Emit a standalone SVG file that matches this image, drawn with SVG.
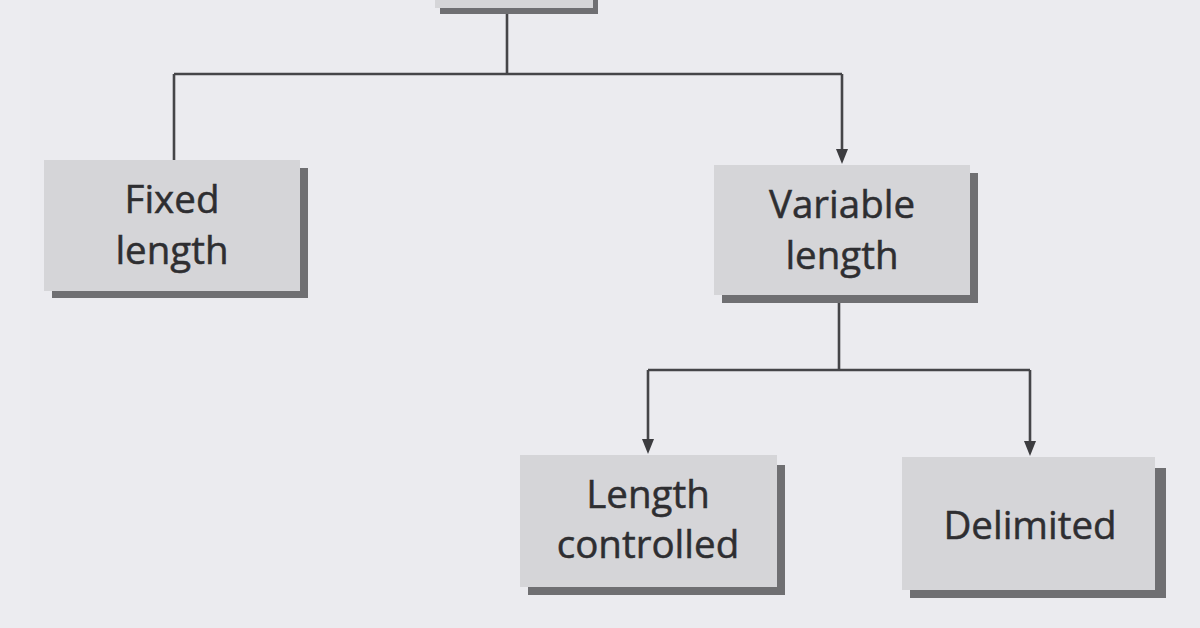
<svg xmlns="http://www.w3.org/2000/svg" width="1200" height="628" viewBox="0 0 1200 628">
<defs>
<style>
.bg{fill:#ebebef}
.box{fill:#d5d5d8}
.sh{fill:#6f6f72}
.lbl{font-family:"Open Sans","Noto Sans","Liberation Sans",sans-serif;font-size:38.5px;fill:#2e2e31;stroke:#2e2e31;stroke-width:0.5;text-anchor:middle}
.ln{fill:none;stroke:#454548;stroke-width:2.6}
.ah{fill:#3c3c3f}
</style>
</defs>
<rect class="bg" x="0" y="0" width="1200" height="628"/>
<rect x="0" y="0" width="30" height="628" fill="#ececf0"/>

<g id="connectors">
<path class="ln" d="M507,14 V74"/>
<path class="ln" d="M174,74 H842"/>
<path class="ln" d="M174,74 V160"/>
<path class="ln" d="M842,74 V150"/>
<path class="ah" d="M836,149 L848,149 L842,164 Z"/>
<path class="ln" d="M839,303 V370"/>
<path class="ln" d="M648,370 H1030"/>
<path class="ln" d="M648,370 V440"/>
<path class="ah" d="M642,439 L654,439 L648,454 Z"/>
<path class="ln" d="M1030,370 V442"/>
<path class="ah" d="M1024,441 L1036,441 L1030,456 Z"/>
</g>

<g id="node-top">
<rect class="sh" x="440" y="0" width="158" height="14"/>
<rect class="box" x="435" y="-60" width="158" height="68"/>
</g>

<g id="node-fixed">
<rect class="sh" x="52" y="168" width="256" height="130"/>
<rect class="box" x="44" y="160" width="256" height="131"/>
<text class="lbl" x="172" y="213">Fixed</text>
<text class="lbl" x="172" y="264">length</text>
</g>

<g id="node-variable">
<rect class="sh" x="722" y="173" width="256" height="130"/>
<rect class="box" x="714" y="165" width="256" height="130"/>
<text class="lbl" x="842" y="218">Variable</text>
<text class="lbl" x="842" y="269">length</text>
</g>

<g id="node-length">
<rect class="sh" x="528" y="465" width="257" height="130"/>
<rect class="box" x="520" y="455" width="257" height="132"/>
<text class="lbl" x="648" y="508">Length</text>
<text class="lbl" x="648" y="558">controlled</text>
</g>

<g id="node-delimited">
<rect class="sh" x="910" y="468" width="256" height="130"/>
<rect class="box" x="902" y="457" width="253" height="133"/>
<text class="lbl" x="1030" y="539">Delimited</text>
</g>
</svg>
